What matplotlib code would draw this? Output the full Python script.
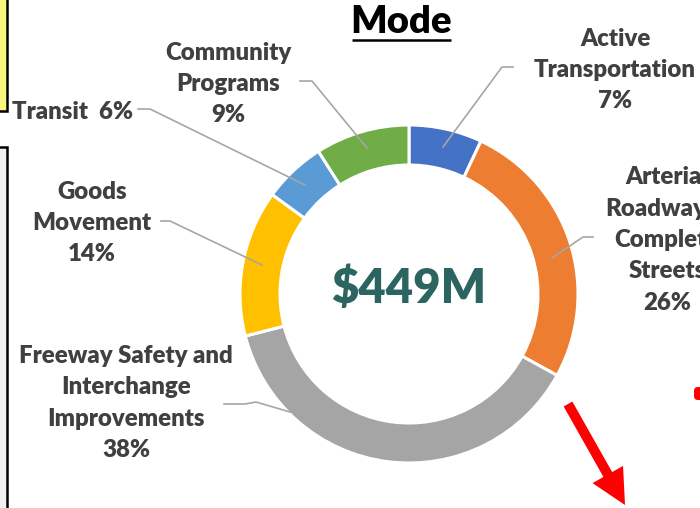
import numpy as np
import matplotlib
matplotlib.use('Agg')
import matplotlib.pyplot as plt
from matplotlib.patches import Rectangle, FancyArrow, FancyBboxPatch

plt.rcParams['font.family'] = ['Lato', 'DejaVu Sans']

W, H = 700, 508

# ── data ──
categories = ['Active\nTransportation', 'Arterial\nRoadways/\nComplete\nStreets',
              'Freeway Safety and\nInterchange\nImprovements', 'Goods\nMovement',
              'Transit', 'Community\nPrograms']
shares = [7, 26, 38, 14, 6, 9]
colors = ['#4472C4', '#ED7D31', '#A5A5A5', '#FFC000', '#5B9BD5', '#70AD47']
total_label = '$449M'
title = 'Mode'

TXT = '#404040'
LEAD = '#A6A6A6'


def Y(y):
    # image pixel row -> data y
    return H - y


fig = plt.figure(figsize=(7, 5.08), dpi=100)
ax = fig.add_axes([0, 0, 1, 1])

cx, cy, R = 409, Y(294), 169
ax.pie(shares, colors=colors, startangle=90, counterclock=False,
       center=(cx, cy), radius=R,
       wedgeprops=dict(width=40, edgecolor='white', linewidth=2.2))

# center total
ax.text(cx, Y(289), total_label, ha='center', va='center', fontsize=34,
        fontweight='heavy', color='#2B6460')

# title with underline
ax.text(401, Y(22), title, ha='center', va='center', fontsize=27.5,
        fontweight='heavy', color='black')
ax.plot([352, 451], [Y(40), Y(40)], color='black', lw=1.8, solid_capstyle='butt')

# labels: (text center x, center y, leader points)
lbl = [f'{c}\n{s}%' for c, s in zip(categories, shares)]
lbl[4] = f'{categories[4]}  {shares[4]}%'
label_pos = [(615, 70), (667, 240), (126, 403), (92, 223), (73, 112), (228, 84)]
leaders = [
    [(513, 67), (502, 67), (443, 147)],
    [(593, 237), (583, 237), (552, 258)],
    [(224, 404), (245, 404), (256, 402), (290, 412)],
    [(161, 221), (170, 221), (262, 265)],
    [(138, 109), (150, 109), (305, 185)],
    [(300, 81), (312, 81), (367, 148)],
]
for t, (x, y), pts in zip(lbl, label_pos, leaders):
    ax.text(x, Y(y), t, ha='center', va='center', fontsize=17.3,
            fontweight='heavy', color=TXT, linespacing=1.52)
    px, py = zip(*pts)
    ax.plot(px, [Y(v) for v in py], color=LEAD, lw=1.2)

# slide decorations cut by the crop
ax.add_patch(Rectangle((-3, Y(111)), 10, 115, facecolor='#FAF77C',
                       edgecolor='black', lw=1.8))
ax.add_patch(Rectangle((-3, Y(512)), 10, 365, facecolor='#F0F0F0',
                       edgecolor='black', lw=1.8))
ax.add_patch(FancyArrow(568, Y(404), 625 - 568, Y(505) - Y(404), width=10,
                        head_width=35, head_length=35, length_includes_head=True,
                        color='#FF0000', lw=0))
ax.add_patch(FancyBboxPatch((694, Y(400)), 10, 13, boxstyle='round,pad=0,rounding_size=4',
                            facecolor='#FF0000', edgecolor='none'))

ax.set_xlim(0, W)
ax.set_ylim(0, H)
ax.set_aspect('auto')
ax.axis('off')

fig.savefig('out.png', dpi=100)
